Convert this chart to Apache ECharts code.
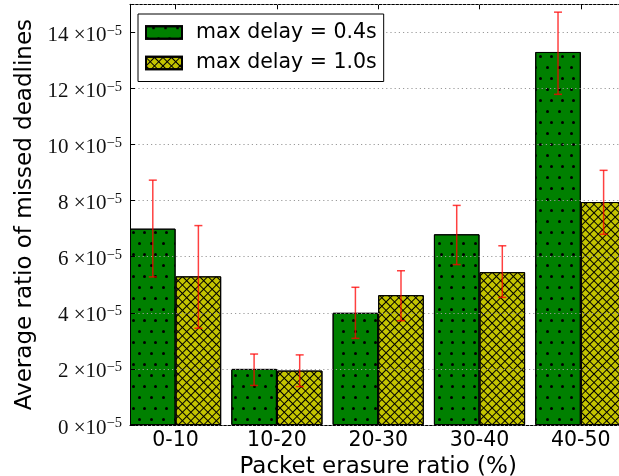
<!DOCTYPE html>
<html><head><meta charset="utf-8">
<script src="https://cdn.jsdelivr.net/npm/echarts@6/dist/echarts.min.js"></script>
<style>html,body{margin:0;padding:0;background:#fff}#c{width:619px;height:476px}</style>
</head><body><div id="c"></div>
<script>
// ---- data (values in units of 1e-5) ----
const categories = ['0-10', '10-20', '20-30', '30-40', '40-50'];
const seriesNames = ['max delay = 0.4s', 'max delay = 1.0s'];
const delay04Mean = [7.0, 2.0, 4.0, 6.8, 13.3];
const delay04Low  = [5.28, 1.41, 3.09, 5.72, 11.79];
const delay04High = [8.73, 2.53, 4.91, 7.83, 14.72];
const delay10Mean = [5.3, 1.94, 4.63, 5.45, 7.95];
const delay10Low  = [3.45, 1.37, 3.72, 4.55, 6.80];
const delay10High = [7.11, 2.50, 5.50, 6.39, 9.08];
const yTickValues = [0, 2, 4, 6, 8, 10, 12, 14];
const yExponent = '−5';

// ---- layout / style constants ----
const BAR_W = 0.45; // bar width in category units
const catIdx = categories.map((c, i) => i);

const dotDecal = {
  symbol: 'circle', symbolSize: 1, color: '#000',
  dashArrayX: [[3, 7.5], [0, 5.25, 3, 2.25]],
  dashArrayY: [3, 7.5],
  rotation: 0
};
const crossDecal = {
  symbol: 'rect', symbolSize: 1, color: '#000',
  dashArrayX: [[1, 0], [1, 4.25]],
  dashArrayY: [1, 0, 4.25, 0],
  rotation: Math.PI / 4
};

function errSeries(name, x0, lo, hi) {
  return {
    type: 'custom', name: name, z: 5, silent: true,
    renderItem: function (params, api) {
      const x = api.value(0);
      const a = api.coord([x, api.value(1)]);
      const b = api.coord([x, api.value(2)]);
      const cap = 4;
      const st = { stroke: 'rgba(255,0,0,0.75)', lineWidth: 1.5 };
      return {
        type: 'group', children: [
          { type: 'line', shape: { x1: a[0], y1: a[1], x2: b[0], y2: b[1] }, style: st },
          { type: 'line', shape: { x1: a[0] - cap, y1: a[1], x2: a[0] + cap, y2: a[1] }, style: st },
          { type: 'line', shape: { x1: b[0] - cap, y1: b[1], x2: b[0] + cap, y2: b[1] }, style: st }
        ]
      };
    },
    data: catIdx.map(i => [i + x0, lo[i], hi[i]])
  };
}

const chart = echarts.init(document.getElementById('c'), null, { renderer: 'canvas' });
chart.setOption({
  animation: false,
  backgroundColor: '#fff',
  grid: { left: 130, right: -7.4, top: 4.3, bottom: 51, containLabel: false, outerBoundsMode: 'none' },
  legend: {
    data: seriesNames, orient: 'vertical', left: 138, top: 14, z: 10,
    selectedMode: false, icon: 'rect',
    backgroundColor: '#fff', borderColor: '#000', borderWidth: 1,
    padding: [8, 7, 8, 7], itemWidth: 36, itemHeight: 12.5, itemGap: 9.5,
    textStyle: { fontFamily: 'DejaVu Sans', fontSize: 20.5, color: '#000', lineHeight: 20, padding: [0, 0, 0, 9] }
  },
  xAxis: [{
    type: 'value', position: 'bottom', min: -BAR_W, max: categories.length - 1 + BAR_W,
    axisLine: { show: true, onZero: false, lineStyle: { color: '#000', width: 1 } },
    axisTick: { show: true, inside: true, length: 5, customValues: catIdx, lineStyle: { color: '#000' } },
    axisLabel: {
      customValues: catIdx, formatter: v => categories[Math.round(v)],
      fontFamily: 'DejaVu Sans', fontSize: 20.5, color: '#000', margin: 5
    },
    splitLine: { show: false },
    name: 'Packet erasure ratio (%)', nameLocation: 'middle', nameGap: 29,
    nameTextStyle: { fontFamily: 'DejaVu Sans', fontSize: 23, color: '#000' }
  }, {
    type: 'value', position: 'top', min: -BAR_W, max: categories.length - 1 + BAR_W,
    axisLine: { show: true, onZero: false, lineStyle: { color: '#000', width: 1 } },
    axisTick: { show: true, inside: true, length: 5, customValues: catIdx, lineStyle: { color: '#000' } },
    axisLabel: { show: false }, splitLine: { show: false }
  }],
  yAxis: {
    type: 'value', min: 0, max: 15, interval: 2, z: 3,
    axisLine: { show: true, onZero: false, lineStyle: { color: '#000', width: 1 } },
    axisTick: { show: true, inside: true, length: 5, lineStyle: { color: '#000' } },
    splitLine: { show: true, lineStyle: { color: '#9a9a9a', width: 1, type: [1.2, 3] } },
    axisLabel: {
      showMaxLabel: false, margin: 8, padding: [6, 0, 0, 0],
      formatter: v => yTickValues.indexOf(v) >= 0 ? '{n|' + v + ' ×10}{s|' + yExponent + '}' : '',
      rich: {
        n: { fontFamily: 'Liberation Serif', fontSize: 21, lineHeight: 24, color: '#111' },
        s: { fontFamily: 'Liberation Serif', fontSize: 14.5, lineHeight: 14, verticalAlign: 'top', color: '#111' }
      }
    },
    name: 'Average ratio of missed deadlines', nameLocation: 'middle', nameGap: 92,
    nameTextStyle: { fontFamily: 'DejaVu Sans', fontSize: 23, color: '#000' }
  },
  series: [{
    type: 'bar', name: seriesNames[0], barWidth: (BAR_W * 100) + '%', barGap: '0%', z: 2,
    itemStyle: { color: '#008000', borderColor: '#000', borderWidth: 1, decal: dotDecal },
    data: catIdx.map(i => [i, delay04Mean[i]])
  }, {
    type: 'bar', name: seriesNames[1], barWidth: (BAR_W * 100) + '%', barGap: '0%', z: 2,
    itemStyle: { color: '#c4c400', borderColor: '#000', borderWidth: 1, decal: crossDecal },
    data: catIdx.map(i => [i, delay10Mean[i]])
  },
  errSeries('err04', -BAR_W / 2, delay04Low, delay04High),
  errSeries('err10', BAR_W / 2, delay10Low, delay10High)
  ]
});
</script></body></html>
